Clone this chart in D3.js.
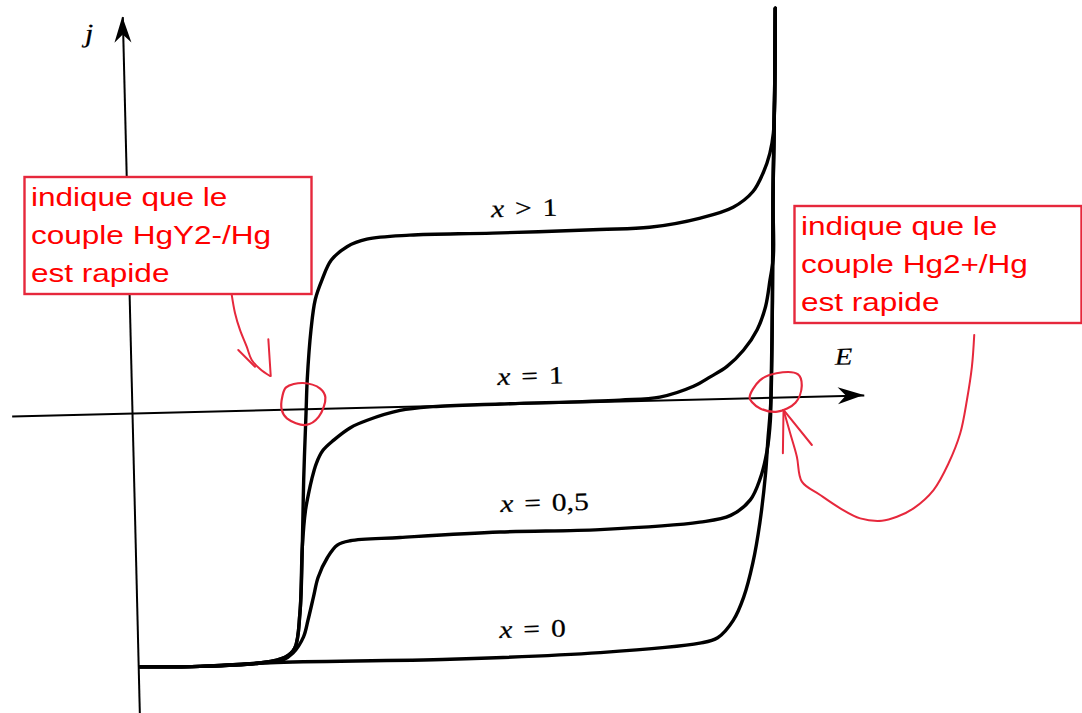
<!DOCTYPE html>
<html>
<head>
<meta charset="utf-8">
<script src="https://cdn.jsdelivr.net/npm/d3@7"></script>
<style>
  body { margin: 0; background: #fff; }
  svg { display: block; }
  text { white-space: pre; }
</style>
</head>
<body>
<svg id="chart" width="1082" height="713"></svg>
<script>
// ---------------- DATA (E in arbitrary units, j in arbitrary units) ----------------
const E_extent = [-1.204, 7.32];
const j_extent = [-3.0, 3.965];

const seriesNames = ["x > 1", "x = 1", "x = 0,5", "x = 0"];

// x > 1
const E_gt1 = [0.02, 0.62, 1.22, 1.47, 1.57, 1.63, 1.67, 1.70, 1.74, 1.76, 1.81, 1.86, 1.93, 2.03, 2.19, 2.39, 2.82, 3.65, 4.72, 5.22, 5.73, 6.06, 6.26, 6.37, 6.44, 6.48, 6.50, 6.53];
const j_gt1 = [-2.54, -2.55, -2.53, -2.48, -2.39, -2.04, -1.38, -0.71, -0.04, 0.29, 0.79, 1.09, 1.28, 1.48, 1.61, 1.68, 1.71, 1.71, 1.72, 1.73, 1.81, 1.91, 2.06, 2.25, 2.44, 2.64, 2.97, 3.89];

// x = 1
const E_eq1 = [0.02, 0.62, 1.22, 1.47, 1.57, 1.63, 1.67, 1.71, 1.75, 1.78, 1.83, 1.90, 2.01, 2.18, 2.35, 2.68, 3.01, 3.68, 4.88, 5.28, 5.62, 5.79, 5.96, 6.13, 6.27, 6.36, 6.41, 6.45, 6.46, 6.50, 6.53];
const j_eq1 = [-2.54, -2.55, -2.53, -2.48, -2.39, -2.04, -1.38, -1.02, -0.83, -0.71, -0.55, -0.42, -0.32, -0.20, -0.13, -0.04, -0.01, 0.00, 0.01, 0.03, 0.13, 0.22, 0.32, 0.48, 0.68, 0.91, 1.17, 1.41, 1.97, 2.97, 3.89];

// x = 0,5
const E_eq05 = [0.02, 0.62, 1.22, 1.44, 1.55, 1.66, 1.71, 1.77, 1.82, 1.92, 2.02, 2.15, 2.65, 3.65, 4.65, 5.65, 5.96, 6.16, 6.26, 6.34, 6.38, 6.39, 6.43, 6.46, 6.50, 6.53];
const j_eq05 = [-2.54, -2.55, -2.53, -2.51, -2.44, -2.28, -2.11, -1.88, -1.69, -1.49, -1.37, -1.33, -1.31, -1.28, -1.28, -1.23, -1.17, -1.02, -0.82, -0.53, -0.23, -0.03, 0.97, 1.97, 2.97, 3.89];

// x = 0
const E_eq0 = [0.02, 0.62, 1.32, 3.12, 4.62, 5.62, 5.80, 5.96, 6.07, 6.17, 6.25, 6.32, 6.35, 6.39, 6.43, 6.46, 6.50, 6.53];
const j_eq0 = [-2.54, -2.55, -2.53, -2.54, -2.51, -2.44, -2.39, -2.22, -1.99, -1.65, -1.25, -0.75, -0.43, -0.03, 0.97, 1.97, 2.97, 3.89];

// curve labels (start position)
const labelE = [3.64, 3.66, 3.66, 3.62];
const labelJ = [1.87, 0.19, -1.08, -2.34];

// axis titles
const axisTitles = ["E", "j"];
const axisTitleE = [7.04, -0.38];
const axisTitleJ = [0.31, 3.72];

// annotations
const noteLeft = ["indique que le", "couple HgY2-/Hg", "est rapide"];
const noteRight = ["indique que le", "couple Hg2+/Hg", "est rapide"];

const ringLeftE = [1.547, 1.717, 1.887, 1.937, 1.867, 1.737, 1.547, 1.497, 1.507];
const ringLeftJ = [0.218, 0.258, 0.198, 0.108, -0.082, -0.162, -0.092, -0.002, 0.128];
const ringRightE = [6.178, 6.285, 6.452, 6.668, 6.702, 6.635, 6.452, 6.285, 6.202];
const ringRightJ = [0.006, 0.173, 0.240, 0.223, 0.106, -0.060, -0.144, -0.110, -0.044];

const arrowLeftE = [1.026, 1.054, 1.100, 1.163, 1.210, 1.291, 1.389];
const arrowLeftJ = [1.156, 0.975, 0.804, 0.635, 0.501, 0.409, 0.336];
const barbLeft1E = [1.078, 1.241], barbLeft1J = [0.604, 0.433];
const barbLeft2E = [1.381, 1.396], barbLeft2J = [0.704, 0.336];

const arrowRightE = [8.439, 8.408, 8.350, 8.275, 8.151, 7.994, 7.790, 7.622, 7.471, 7.254, 7.057, 6.860, 6.680, 6.636, 6.575, 6.514];
const arrowRightJ = [0.575, 0.258, -0.074, -0.405, -0.702, -0.966, -1.144, -1.224, -1.260, -1.231, -1.126, -0.988, -0.850, -0.599, -0.364, -0.129];
const barbRight1E = [6.514, 6.789], barbRight1J = [-0.129, -0.486];
const barbRight2E = [6.514, 6.497], barbRight2J = [-0.129, -0.562];

// ---------------- DRAWING ----------------
const svg = d3.select("#chart");
const RED_LINE = "#e6283c";
const RED_TEXT = "#ff0000";

const x = d3.scaleLinear().domain(E_extent).range([-120.4, 732]);
const y = d3.scaleLinear().domain(j_extent).range([300, -396.5]);

const g = svg.append("g").attr("transform", "translate(132,413) rotate(-1.4)");

// axes (no ticks, just the domain lines)
const gx = g.append("g").attr("transform", `translate(0,${y(0)})`)
  .call(d3.axisBottom(x).tickValues([]).tickSizeOuter(0));
const gy = g.append("g").attr("transform", `translate(${x(0)},0)`)
  .call(d3.axisLeft(y).tickValues([]).tickSizeOuter(0));
[gx, gy].forEach(a => a.select(".domain").attr("stroke", "#000").attr("stroke-width", 2));

// arrowheads
const headShape = [[0, 0], [-26, -8.5], [-18, 0], [-26, 8.5]];
const headPath = d3.line().curve(d3.curveLinearClosed)(headShape);
g.append("path").attr("d", headPath).attr("fill", "#000")
  .attr("transform", `translate(${x(E_extent[1])},${y(0)})`);
g.append("path").attr("d", headPath).attr("fill", "#000")
  .attr("transform", `translate(${x(0)},${y(j_extent[1])}) rotate(-90)`);

// curves
const line = d3.line().x(d => x(d[0])).y(d => y(d[1])).curve(d3.curveCatmullRom.alpha(0.5));
const seriesE = [E_gt1, E_eq1, E_eq05, E_eq0];
const seriesJ = [j_gt1, j_eq1, j_eq05, j_eq0];
seriesE.forEach((es, i) => {
  const pts = es.map((e, k) => [e, seriesJ[i][k]]);
  g.append("path").attr("d", line(pts))
    .attr("fill", "none").attr("stroke", "#000").attr("stroke-width", 3.4)
    .attr("stroke-linecap", "round").attr("stroke-linejoin", "round");
});

// curve labels
seriesNames.forEach((name, i) => {
  const t = g.append("text")
    .attr("transform", `translate(${x(labelE[i])},${y(labelJ[i])}) scale(1.18,1)`)
    .attr("font-family", "'Liberation Serif', 'Times New Roman', serif")
    .attr("font-size", 25).attr("fill", "#000")
    .attr("stroke", "#000").attr("stroke-width", 0.25)
    .attr("word-spacing", 3);
  t.append("tspan").attr("font-style", "italic").text(name.slice(0, 1));
  t.append("tspan").text(name.slice(1));
});

// axis titles
axisTitles.forEach((name, i) => {
  g.append("text")
    .attr("transform", `translate(${x(axisTitleE[i])},${y(axisTitleJ[i])}) scale(1.2,1)`)
    .attr("font-family", "'Liberation Serif', 'Times New Roman', serif")
    .attr("font-style", "italic")
    .attr("stroke", "#000").attr("stroke-width", 0.2)
    .attr("font-size", i === 0 ? 24 : 26).attr("fill", "#000").text(name);
});

// red annotation rings and arrows
const ringLine = d3.line().x(d => x(d[0])).y(d => y(d[1])).curve(d3.curveCatmullRomClosed.alpha(0.5));
[[ringLeftE, ringLeftJ], [ringRightE, ringRightJ]].forEach(([es, js]) => {
  g.append("path").attr("d", ringLine(es.map((e, k) => [e, js[k]])))
    .attr("fill", "none").attr("stroke", RED_LINE).attr("stroke-width", 2.2);
});
const freeLine = d3.line().x(d => x(d[0])).y(d => y(d[1])).curve(d3.curveCatmullRom.alpha(0.5));
[[arrowLeftE, arrowLeftJ], [barbLeft1E, barbLeft1J], [barbLeft2E, barbLeft2J],
 [arrowRightE, arrowRightJ], [barbRight1E, barbRight1J], [barbRight2E, barbRight2J]].forEach(([es, js]) => {
  g.append("path").attr("d", freeLine(es.map((e, k) => [e, js[k]])))
    .attr("fill", "none").attr("stroke", RED_LINE).attr("stroke-width", 2)
    .attr("stroke-linecap", "round").attr("stroke-linejoin", "round");
});

// note boxes
function noteBox(left, top, lines) {
  const b = svg.append("g");
  b.append("rect").attr("x", left).attr("y", top).attr("width", 287).attr("height", 117)
    .attr("fill", "#fff").attr("stroke", RED_LINE).attr("stroke-width", 2.4);
  lines.forEach((s, i) => {
    b.append("text")
      .attr("transform", `translate(${left + 6.5},${top + 29 + i * 38}) scale(1.19,1)`)
      .attr("font-family", "'Liberation Sans', Arial, sans-serif")
      .attr("font-size", 26.5).attr("fill", RED_TEXT).text(s);
  });
}
noteBox(24.5, 177, noteLeft);
noteBox(794.5, 206, noteRight);
</script>
</body>
</html>
